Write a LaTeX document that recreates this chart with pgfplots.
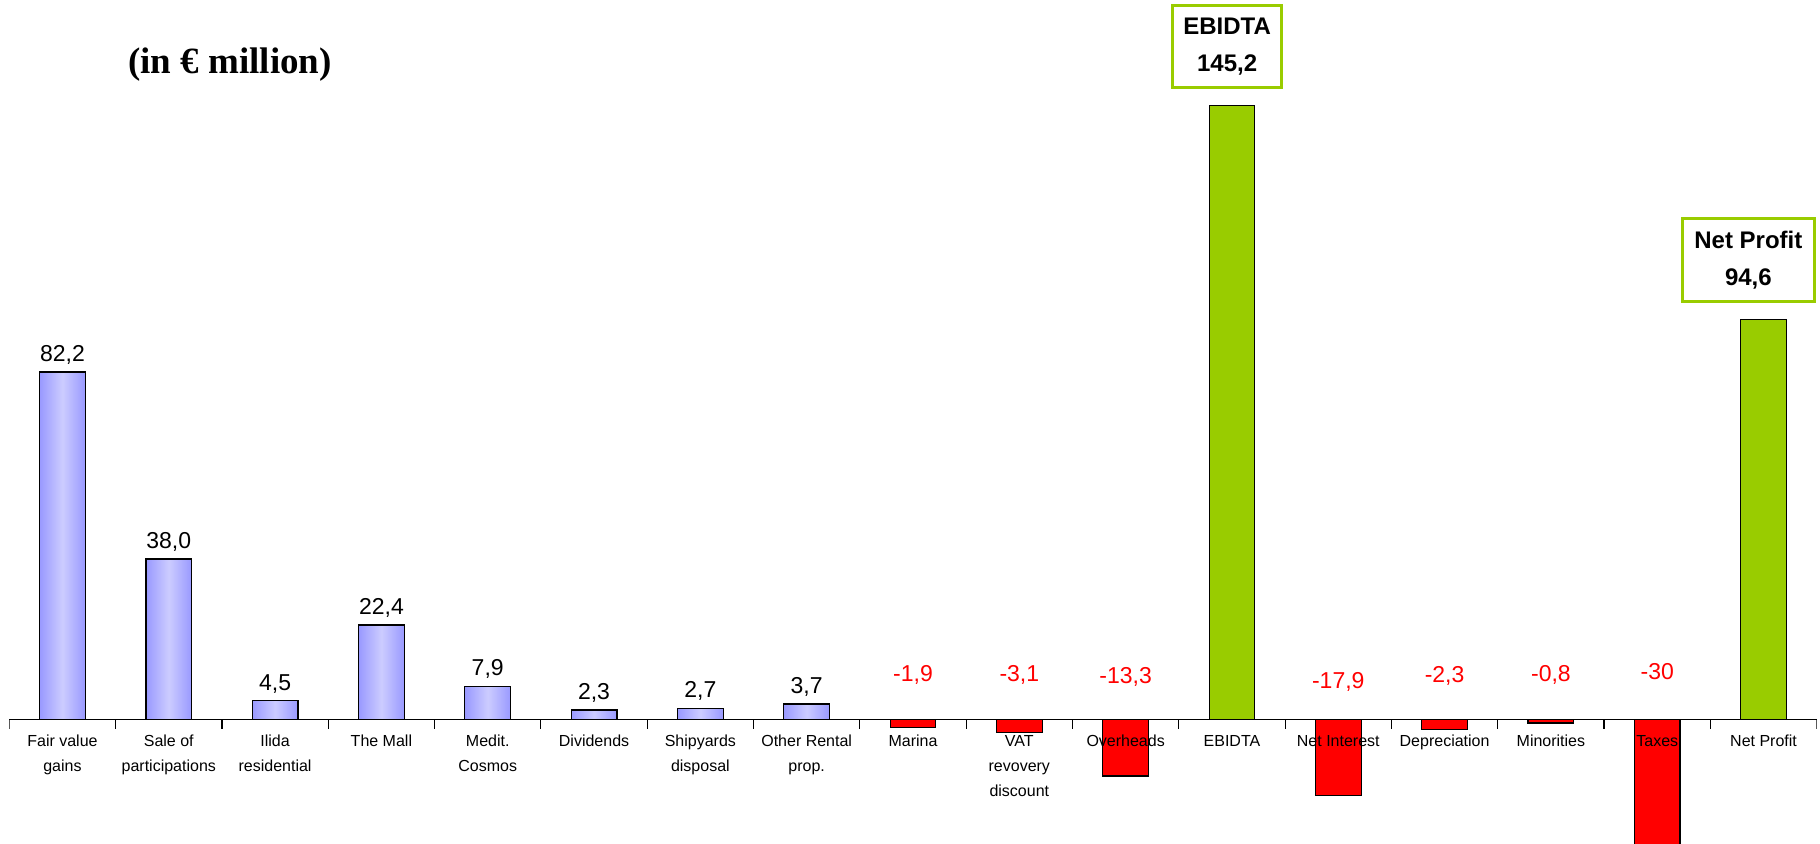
\documentclass[border=0pt]{standalone}
\usepackage{pgfplots}
\pgfplotsset{compat=1.18}
\usepackage{fontspec}
\setmainfont{Liberation Sans}
\newfontfamily\timesfont{Liberation Serif}
\definecolor{lav}{HTML}{CCCCFF}
\definecolor{lavd}{HTML}{9999FF}
\definecolor{gr}{HTML}{99CC00}
\definecolor{rd}{HTML}{FF0000}
\pgfplotsset{posbar/.style={ybar, bar width=0.43, bar shift=0pt, draw=black, line width=0.6pt,
  left color=lavd, right color=lavd, middle color=lav}}
\begin{document}
\begin{tikzpicture}
\useasboundingbox (-4.65pt,0pt) rectangle (905.35pt,422pt);
\begin{axis}[
  at={(0pt,0pt)}, anchor=south west,
  scale only axis, width=903.7pt, height=422pt,
  xmin=-0.5, xmax=16.5, ymin=-29.4, ymax=170.2,
  axis x line=middle, axis y line=none,
  x axis line style={-, line width=0.6pt},
  xtick={0,...,16}, major tick length=0pt,
  xticklabels={{Fair value\\gains},{Sale of\\participations},{Ilida\\residential},{The Mall},{Medit.\\Cosmos},{Dividends},{Shipyards\\disposal},{Other Rental\\prop.},{Marina},{VAT\\revovery\\discount},{Overheads},{EBIDTA},{Net Interest},{Depreciation},{Minorities},{Taxes},{Net Profit}},
  xticklabel style={align=center, font=\fontsize{8}{12.5}\selectfont, anchor=north, inner sep=0pt, yshift=-7.5pt},
  axis on top,
]
% positive items (one plot per bar so that each bar gets its own shading)
\addplot[posbar] coordinates {(0,82.2)};
\addplot[posbar] coordinates {(1,38.0)};
\addplot[posbar] coordinates {(2,4.5)};
\addplot[posbar] coordinates {(3,22.4)};
\addplot[posbar] coordinates {(4,7.9)};
\addplot[posbar] coordinates {(5,2.3)};
\addplot[posbar] coordinates {(6,2.7)};
\addplot[posbar] coordinates {(7,3.7)};
% negative items
\addplot[ybar, bar width=0.43, bar shift=0pt, draw=black, line width=0.6pt, fill=rd]
  coordinates {(8,-1.9) (9,-3.1) (10,-13.3) (12,-17.9) (13,-2.3) (14,-0.8) (15,-30)};
% totals
\addplot[ybar, bar width=0.43, bar shift=0pt, draw=black, line width=0.6pt, fill=gr]
  coordinates {(11,145.2) (16,94.6)};
% value labels, positive
\addplot[only marks, mark=none, nodes near coords, point meta=explicit symbolic,
  nodes near coords style={font=\fontsize{11.5}{12}\selectfont, text=black, anchor=base, yshift=5.2pt}]
  coordinates {(0,82.2)[82,2] (1,38.0)[38,0] (2,4.5)[4,5] (3,22.4)[22,4] (4,7.9)[7,9] (5,2.3)[2,3] (6,2.7)[2,7] (7,3.7)[3,7]};
% value labels, negative
\addplot[only marks, mark=none, nodes near coords, point meta=explicit symbolic,
  nodes near coords style={font=\fontsize{11.5}{12}\selectfont, text=rd, anchor=base, yshift=-4.1pt}]
  coordinates {(8,11.0)[-1,9] (9,11.0)[-3,1] (10,10.4)[-13,3] (12,9.3)[-17,9] (13,10.7)[-2,3] (14,11.0)[-0,8] (15,11.5)[-30]};
\pgfplotsinvokeforeach{-0.5,0.5,...,16.5}{\draw[line width=0.6pt] (axis cs:#1,0) -- ++(0pt,-4.5pt);}
\node[font=\timesfont\bfseries\fontsize{18.5}{20}\selectfont] at (axis cs:1.576,155) {(in € million)};
\node[draw=gr, line width=1.5pt, fill=white, align=center, minimum width=54.5pt, minimum height=40.6pt, inner sep=1pt, font=\bfseries\fontsize{12}{18.6}\selectfont] at (axis cs:10.955,159.2) {EBIDTA\\145,2};
\node[draw=gr, line width=1.5pt, fill=white, align=center, minimum width=66pt, minimum height=41.8pt, inner sep=1pt, font=\bfseries\fontsize{12}{18.6}\selectfont] at (axis cs:15.857,108.7) {Net Profit\\94,6};
\end{axis}
\end{tikzpicture}
\end{document}
